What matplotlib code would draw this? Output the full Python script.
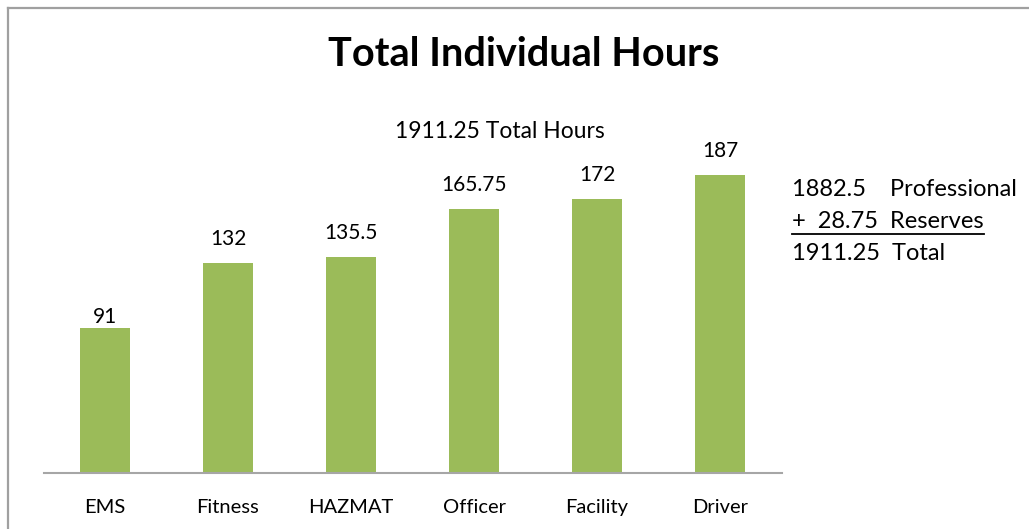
import matplotlib
matplotlib.use("Agg")
import matplotlib.pyplot as plt
from matplotlib.lines import Line2D

plt.rcParams["font.family"] = ["Lato", "DejaVu Sans"]

categories = ["EMS", "Fitness", "HAZMAT", "Officer", "Facility", "Driver"]
hours = [91, 132, 135.5, 165.75, 172, 187]
labels = ["91", "132", "135.5", "165.75", "172", "187"]
title = "Total Individual Hours"
total_note = "1911.25 Total Hours"
summary_rows = [("1882.5", "Professional"), ("+  28.75", "Reserves"), ("1911.25", "Total")]

W, H = 1029, 529
fig = plt.figure(figsize=(W / 100, H / 100), dpi=100)
fig.patch.set_facecolor("white")

# axes placed in pixel terms
ax = fig.add_axes([43.5 / W, 56 / H, 738 / W, 318.8 / H])
x = range(len(categories))
bars = ax.bar(x, hours, width=0.4, color="#9BBB59", zorder=2)
ax.set_ylim(0, 200)
ax.set_xlim(-0.5, len(categories) - 0.5)
ax.set_yticks([])
ax.set_xticks(list(x))
ax.set_xticklabels(categories, fontsize=14.5)
ax.tick_params(axis="x", length=0, pad=19)
for s in ["top", "right", "left"]:
    ax.spines[s].set_visible(False)
ax.spines["bottom"].set_color("#A6A6A6")
ax.spines["bottom"].set_linewidth(1.5)
ax.patch.set_alpha(0)

for i, (b, lab) in enumerate(zip(bars, labels)):
    off = 1 if i == 0 else 10
    ax.annotate(lab, (b.get_x() + b.get_width() / 2, b.get_height()),
                xytext=(0, off), textcoords="offset points",
                ha="center", va="bottom", fontsize=15)

fig.text(524 / W, 1 - 55 / H, title, ha="center", va="center",
         fontsize=28.5, fontweight="bold")
fig.text(500 / W, 1 - 132 / H, total_note, ha="center", va="center", fontsize=16.5)

# summary block on the right
row_y = [189, 221, 254]
renderer = fig.canvas.get_renderer()
for k, ((num, name), yy) in enumerate(zip(summary_rows, row_y)):
    t = fig.text(792 / W, 1 - yy / H, f"{num}  {name}" if k else f"{num}    {name}",
                 ha="left", va="center", fontsize=17)
    if k == 1:
        bb = t.get_window_extent(renderer)
        fig.add_artist(Line2D([bb.x0 / W, bb.x1 / W], [(H - 234) / H] * 2,
                              color="black", lw=1.3, transform=fig.transFigure))

# chart frame (left and top edges visible)
fig.add_artist(Line2D([7.5 / W, 7.5 / W], [0, 1 - 7.5 / H], color="#A0A0A0", lw=1.6,
                      transform=fig.transFigure))
fig.add_artist(Line2D([7.5 / W, 1], [1 - 7.5 / H] * 2, color="#A0A0A0", lw=1.6,
                      transform=fig.transFigure))

fig.savefig("out.png", dpi=100)
